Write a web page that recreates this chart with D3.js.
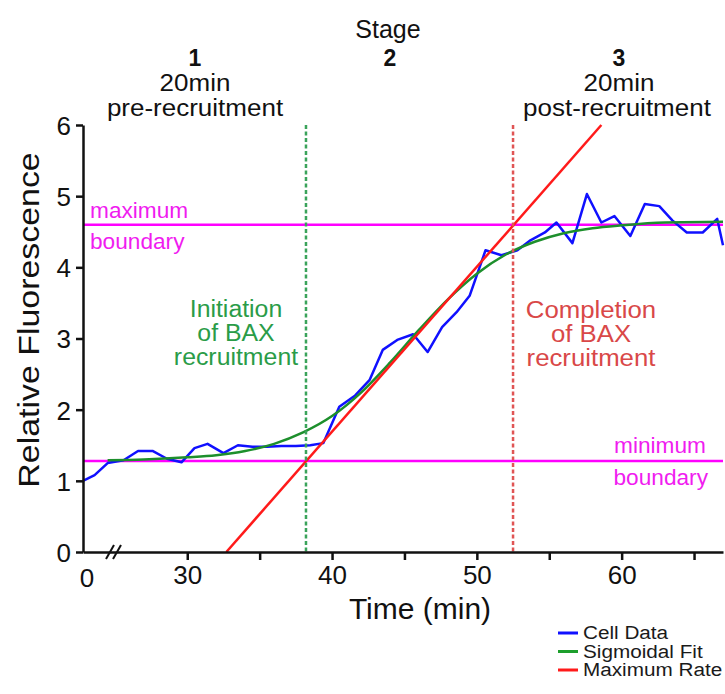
<!DOCTYPE html>
<html>
<head>
<meta charset="utf-8">
<script src="https://cdn.jsdelivr.net/npm/d3@7/dist/d3.min.js"></script>
<style>
  body { margin: 0; background: #fff; }
  svg { font-family: "Liberation Sans", Arial, sans-serif; }
</style>
</head>
<body>
<div id="the_chart"></div>
<script>
// time (min) and relative fluorescence
var cellTime = [22.8, 23.6, 24.5, 25.6, 26.6, 27.6, 28.6, 29.6, 30.5, 31.4, 32.5, 33.5, 34.5, 35.5,
                36.5, 37.5, 38.5, 39.4, 40.5, 41.6, 42.6, 43.5, 44.5, 45.6, 46.6, 47.6, 48.6, 49.5,
                50.6, 51.7, 52.8, 53.7, 54.7, 55.5, 56.6, 57.6, 58.6, 59.5, 60.6, 61.6, 62.6, 63.5,
                64.5, 65.6, 66.6, 67.0];
var cellValue = [1.00, 1.08, 1.25, 1.29, 1.42, 1.42, 1.31, 1.26, 1.46, 1.52, 1.39, 1.50, 1.48, 1.48,
                 1.49, 1.49, 1.50, 1.53, 2.04, 2.20, 2.42, 2.84, 2.98, 3.06, 2.81, 3.16, 3.37, 3.60,
                 4.24, 4.17, 4.24, 4.38, 4.49, 4.63, 4.34, 5.03, 4.63, 4.72, 4.44, 4.89, 4.86, 4.66,
                 4.49, 4.49, 4.68, 4.31];

var fitTime  = [24.5, 27, 30, 32, 34, 36, 38, 40, 42, 44, 46, 48, 50, 52, 54, 56, 58, 60, 63, 67];
var fitValue = [1.29, 1.30, 1.33, 1.36, 1.42, 1.52, 1.68, 1.91, 2.24, 2.66, 3.12, 3.55, 3.91, 4.18,
                4.36, 4.48, 4.55, 4.59, 4.63, 4.64];

var rateTime  = [32.7, 58.6];
var rateValue = [0, 6];

var maxBoundary = 4.6;
var minBoundary = 1.28;
var initiationTime = 38.2;
var completionTime = 52.5;

var xTicks = [30, 35, 40, 45, 50, 55, 60, 65];
var yTicks = [0, 1, 2, 3, 4, 5, 6];
var legendNames = ["Cell Data", "Sigmoidal Fit", "Maximum Rate"];

var w = 725;
var h = 694;
var svg = d3.select("#the_chart").append("svg")
            .attr("width", w)
            .attr("height", h);

var x = d3.scaleLinear().domain([22.8, 67]).range([83, 723]);
var y = d3.scaleLinear().domain([0, 6]).range([552, 125]);

function pts(ts, vs) { return ts.map(function (t, i) { return [t, vs[i]]; }); }

// the source font runs a little wider than Liberation Sans
function widen(sel, k) {
  sel.each(function () {
    var len = this.getComputedTextLength();
    d3.select(this).attr("textLength", len * k).attr("lengthAdjust", "spacingAndGlyphs");
  });
}

var line = d3.line()
             .x(function (d) { return x(d[0]); })
             .y(function (d) { return y(d[1]); });

// boundaries
svg.selectAll(".bound")
    .data([maxBoundary, minBoundary])
  .enter().append("line")
    .attr("x1", x(22.8)).attr("x2", x(67))
    .attr("y1", function (d) { return y(d); })
    .attr("y2", function (d) { return y(d); })
    .attr("stroke", "#ff00ff")
    .attr("stroke-width", 2.5);

svg.append("path")
    .attr("d", line(pts(cellTime, cellValue)))
    .attr("fill", "none")
    .attr("stroke", "#1010ff")
    .attr("stroke-width", 2.5)
    .attr("stroke-linejoin", "round");

svg.append("path")
    .attr("d", line.curve(d3.curveMonotoneX)(pts(fitTime, fitValue)))
    .attr("fill", "none")
    .attr("stroke", "#1d8f2c")
    .attr("stroke-width", 2.5);
line.curve(d3.curveLinear);

svg.append("path")
    .attr("d", line(pts(rateTime, rateValue)))
    .attr("fill", "none")
    .attr("stroke", "#ff1a1a")
    .attr("stroke-width", 2.5);

// stage markers
svg.selectAll(".marker")
    .data([[initiationTime, "#3aa35a"], [completionTime, "#e05555"]])
  .enter().append("line")
    .attr("x1", function (d) { return x(d[0]); })
    .attr("x2", function (d) { return x(d[0]); })
    .attr("y1", y(6)).attr("y2", y(0))
    .attr("stroke", function (d) { return d[1]; })
    .attr("stroke-width", 2.5)
    .attr("stroke-dasharray", "4,2.5");

// axes
var xaxis = d3.axisBottom(x)
              .tickValues(xTicks)
              .tickFormat(function (d) { return d % 10 === 0 ? d : ""; })
              .tickSize(8)
              .tickSizeOuter(0)
              .tickPadding(6);
var gx = svg.append("g")
    .attr("transform", "translate(0," + y(0) + ")")
    .call(xaxis);
gx.append("text")
    .attr("x", x(22.8) + 4).attr("y", 35)
    .attr("text-anchor", "middle")
    .attr("fill", "#111")
    .text("0");

var yaxis = d3.axisLeft(y)
              .tickValues(yTicks)
              .tickFormat(d3.format("d"))
              .tickSize(7)
              .tickSizeOuter(0)
              .tickPadding(5);
var gy = svg.append("g")
    .attr("transform", "translate(" + x(22.8) + ",0)")
    .call(yaxis);

svg.selectAll(".domain, .tick line")
    .attr("stroke", "#111")
    .attr("stroke-width", 2.5);
svg.selectAll(".tick text")
    .attr("fill", "#111")
    .style("font-size", "26px");
gx.selectAll("text").style("font-size", "26px");
gy.selectAll(".tick text").attr("dy", "0.36em");

// axis break
var gb = svg.append("g");
[0, 7].forEach(function (dx) {
  gb.append("line")
    .attr("x1", 106 + dx).attr("y1", 559)
    .attr("x2", 114 + dx).attr("y2", 545)
    .attr("stroke", "#111")
    .attr("stroke-width", 2);
});

// axis titles
svg.append("text")
    .attr("x", 420).attr("y", 619)
    .attr("text-anchor", "middle")
    .style("font-size", "30px")
    .attr("fill", "#111")
    .text("Time (min)");
svg.append("text")
    .attr("transform", "translate(39,320) rotate(-90)")
    .attr("text-anchor", "middle")
    .style("font-size", "30px")
    .attr("fill", "#111")
    .text("Relative Fluorescence")
    .call(widen, 1.13);

// stage header
svg.append("text")
    .attr("x", 388).attr("y", 38)
    .attr("text-anchor", "middle")
    .style("font-size", "25px")
    .attr("fill", "#111")
    .text("Stage");

var stages = [
  {n: "1", cx: 195, lines: ["20min", "pre-recruitment"]},
  {n: "2", cx: 390, lines: []},
  {n: "3", cx: 619, lines: ["20min", "post-recruitment"]}
];
stages.forEach(function (s) {
  svg.append("text")
      .attr("x", s.cx).attr("y", 66)
      .attr("text-anchor", "middle")
      .style("font-size", "23px")
      .style("font-weight", "bold")
      .attr("fill", "#111")
      .text(s.n);
  s.lines.forEach(function (t, i) {
    svg.append("text")
        .attr("x", s.cx - (i === 1 && s.n === "3" ? 2 : 0)).attr("y", 91 + i * 25)
        .attr("text-anchor", "middle")
        .style("font-size", "23px")
        .attr("fill", "#111")
        .text(t)
        .call(widen, 1.13);
  });
});

// annotations
function block(lines, cx, y0, gap, color, size, anchor, k) {
  lines.forEach(function (t, i) {
    svg.append("text")
        .attr("x", cx).attr("y", y0 + i * gap)
        .attr("text-anchor", anchor)
        .style("font-size", size)
        .attr("fill", color)
        .text(t)
        .call(widen, k);
  });
}
block(["Initiation", "of BAX", "recruitment"], 236, 317, 24, "#2a9c48", "23px", "middle", 1.08);
block(["Completion", "of BAX", "recruitment"], 591, 318, 24, "#d94848", "23px", "middle", 1.12);
block(["maximum"], 90, 218, 0, "#f01cf0", "22px", "start", 1.03);
block(["boundary"], 90, 249, 0, "#f01cf0", "22px", "start", 1.03);
block(["minimum"], 706, 453, 0, "#f01cf0", "22px", "end", 1.03);
block(["boundary"], 708, 485, 0, "#f01cf0", "22px", "end", 1.03);

// legend
var legendColors = ["#1010ff", "#1d9f2c", "#ff1a1a"];
var lg = svg.selectAll(".legend")
    .data(legendNames)
  .enter().append("g")
    .attr("transform", function (d, i) { return "translate(558," + (633 + i * 18.5) + ")"; });
lg.append("line")
    .attr("x1", 0).attr("x2", 20)
    .attr("stroke", function (d, i) { return legendColors[i]; })
    .attr("stroke-width", 3);
lg.append("text")
    .attr("x", 25).attr("y", 6)
    .style("font-size", "18px")
    .attr("fill", "#1a1a1a")
    .text(function (d) { return d; })
    .call(widen, 1.15);
</script>
</body>
</html>
